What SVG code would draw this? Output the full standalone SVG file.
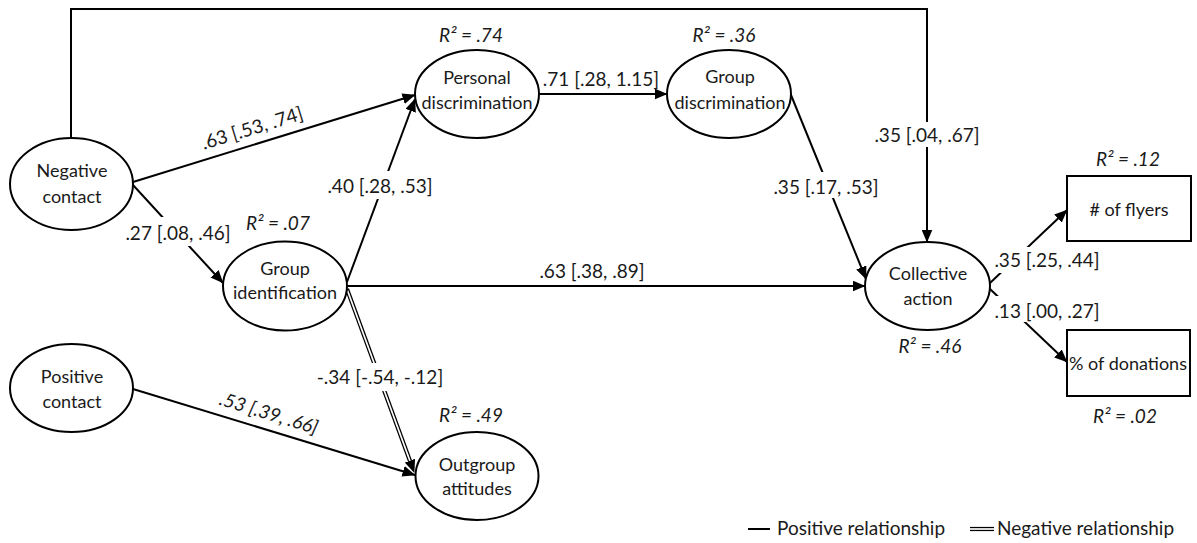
<svg xmlns="http://www.w3.org/2000/svg" width="1197" height="543" viewBox="0 0 1197 543">
<defs>
<marker id="ah" markerUnits="userSpaceOnUse" viewBox="0 0 13 11" refX="12.5" refY="5.5" markerWidth="13" markerHeight="11" orient="auto"><path d="M0,0 L13,5.5 L0,11 z" fill="#000"/></marker>
<marker id="ah0" markerUnits="userSpaceOnUse" viewBox="0 0 13 11" refX="0" refY="5.5" markerWidth="13" markerHeight="11" orient="auto"><path d="M0,0 L13,5.5 L0,11 z" fill="#000"/></marker>
</defs>
<style>
.n{fill:#fff;stroke:#000;stroke-width:2}
.t{font-family:Lato,"Open Sans","Liberation Sans",sans-serif;font-weight:400;font-size:18px;fill:#1a1a1a;text-anchor:middle}
.l{font-family:Lato,"Open Sans","Liberation Sans",sans-serif;font-weight:400;font-size:19px;fill:#1a1a1a;text-anchor:middle}
.i{font-style:italic}
.e{fill:none;stroke:#000;stroke-width:2;marker-end:url(#ah)}
.bg{fill:#fff}
.dbl{fill:none;stroke:#000;stroke-width:4.2}
.dblw{fill:none;stroke:#fff;stroke-width:1.7}
</style>
<rect width="1197" height="543" fill="#fff"/>
<g id="connectors">
<path class="e" d="M71,138 V9 H927 V242"/>
<path class="e" d="M133,182 L415,95"/>
<path class="e" d="M133,185 L223,283"/>
<path class="e" d="M347,282 L415,99"/>
<path class="e" d="M347,286 H865"/>
<path class="dbl" d="M347,289 L409.9,460.7" style="marker-end:url(#ah0)"/>
<path class="dblw" d="M347.5,290.5 L409.9,460.7"/>
<path class="e" d="M133,389 L415,475"/>
<path class="e" d="M538,94 H667"/>
<path class="e" d="M791,95 L866,279"/>
<path class="e" d="M990,283 L1067,210"/>
<path class="e" d="M990,289 L1067,362"/>
<rect class="bg" x="873" y="122" width="108" height="25"/>
<rect class="bg" x="125" y="217" width="107" height="29"/>
<rect class="bg" x="327" y="171" width="106" height="28"/>
<rect class="bg" x="316" y="363" width="128" height="28"/>
<rect class="bg" x="772" y="172" width="110" height="26"/>
<rect class="bg" x="994" y="247" width="108" height="26"/>
<rect class="bg" x="994" y="296" width="108" height="26"/>
<text class="l" x="927" y="142">.35 [.04, .67]</text>
<text class="l" x="178" y="240">.27 [.08, .46]</text>
<text class="l" x="380" y="193">.40 [.28, .53]</text>
<text class="l" x="380" y="384">-.34 [-.54, -.12]</text>
<text class="l" x="826" y="194">.35 [.17, .53]</text>
<text class="l" x="1047" y="267">.35 [.25, .44]</text>
<text class="l" x="1047" y="318">.13 [.00, .27]</text>
<text class="l" x="601" y="86">.71 [.28, 1.15]</text>
<text class="l" x="592" y="278">.63 [.38, .89]</text>
<text class="l" transform="translate(257,144) rotate(-17)" x="0" y="-10">.63 [.53, .74]</text>
<text class="l i" transform="translate(264,429) rotate(17)" x="0" y="-10">.53 [.39, .66]</text>
</g>
<g id="negative-contact"><ellipse class="n" cx="71.5" cy="184" rx="61.5" ry="46"/><text class="t" x="72" y="177">Negative</text><text class="t" x="72" y="203">contact</text></g>
<g id="positive-contact"><ellipse class="n" cx="71.5" cy="388" rx="61.5" ry="44"/><text class="t" x="72" y="383">Positive</text><text class="t" x="72" y="408">contact</text></g>
<g id="personal-discrimination"><ellipse class="n" cx="477" cy="94" rx="62" ry="44"/><text class="t" x="477" y="84">Personal</text><text class="t" x="477" y="109">discrimination</text><text class="l i" x="471" y="42">R² = .74</text></g>
<g id="group-discrimination"><ellipse class="n" cx="729" cy="94" rx="62" ry="44"/><text class="t" x="730" y="83">Group</text><text class="t" x="730" y="109">discrimination</text><text class="l i" x="724" y="42">R² = .36</text></g>
<g id="group-identification"><ellipse class="n" cx="285" cy="286" rx="62" ry="44.5"/><text class="t" x="285" y="275">Group</text><text class="t" x="285" y="299">identification</text><text class="l i" x="278" y="230">R² = .07</text></g>
<g id="collective-action"><ellipse class="n" cx="927.5" cy="286" rx="62.5" ry="44"/><text class="t" x="928" y="280">Collective</text><text class="t" x="928" y="305">action</text><text class="l i" x="930" y="353">R² = .46</text></g>
<g id="outgroup-attitudes"><ellipse class="n" cx="477" cy="476" rx="61.5" ry="44"/><text class="t" x="477" y="471">Outgroup</text><text class="t" x="477" y="495">attitudes</text><text class="l i" x="471" y="422">R² = .49</text></g>
<g id="flyers"><rect class="n" x="1067" y="176" width="124" height="65"/><text class="t" x="1129" y="216">#&#160;of flyers</text><text class="l i" x="1128" y="166">R² = .12</text></g>
<g id="donations"><rect class="n" x="1067" y="330" width="123" height="66"/><text class="t" x="1128" y="370">% of donations</text><text class="l i" x="1125" y="423">R² = .02</text></g>
<g id="legend">
<path d="M748,529 H770" stroke="#000" stroke-width="2"/>
<text class="l" x="777" y="535" style="text-anchor:start">Positive relationship</text>
<path class="dbl" d="M970,529 H994"/>
<path class="dblw" d="M969,529 H995"/>
<text class="l" x="997" y="535" style="text-anchor:start">Negative relationship</text>
</g>
</svg>
